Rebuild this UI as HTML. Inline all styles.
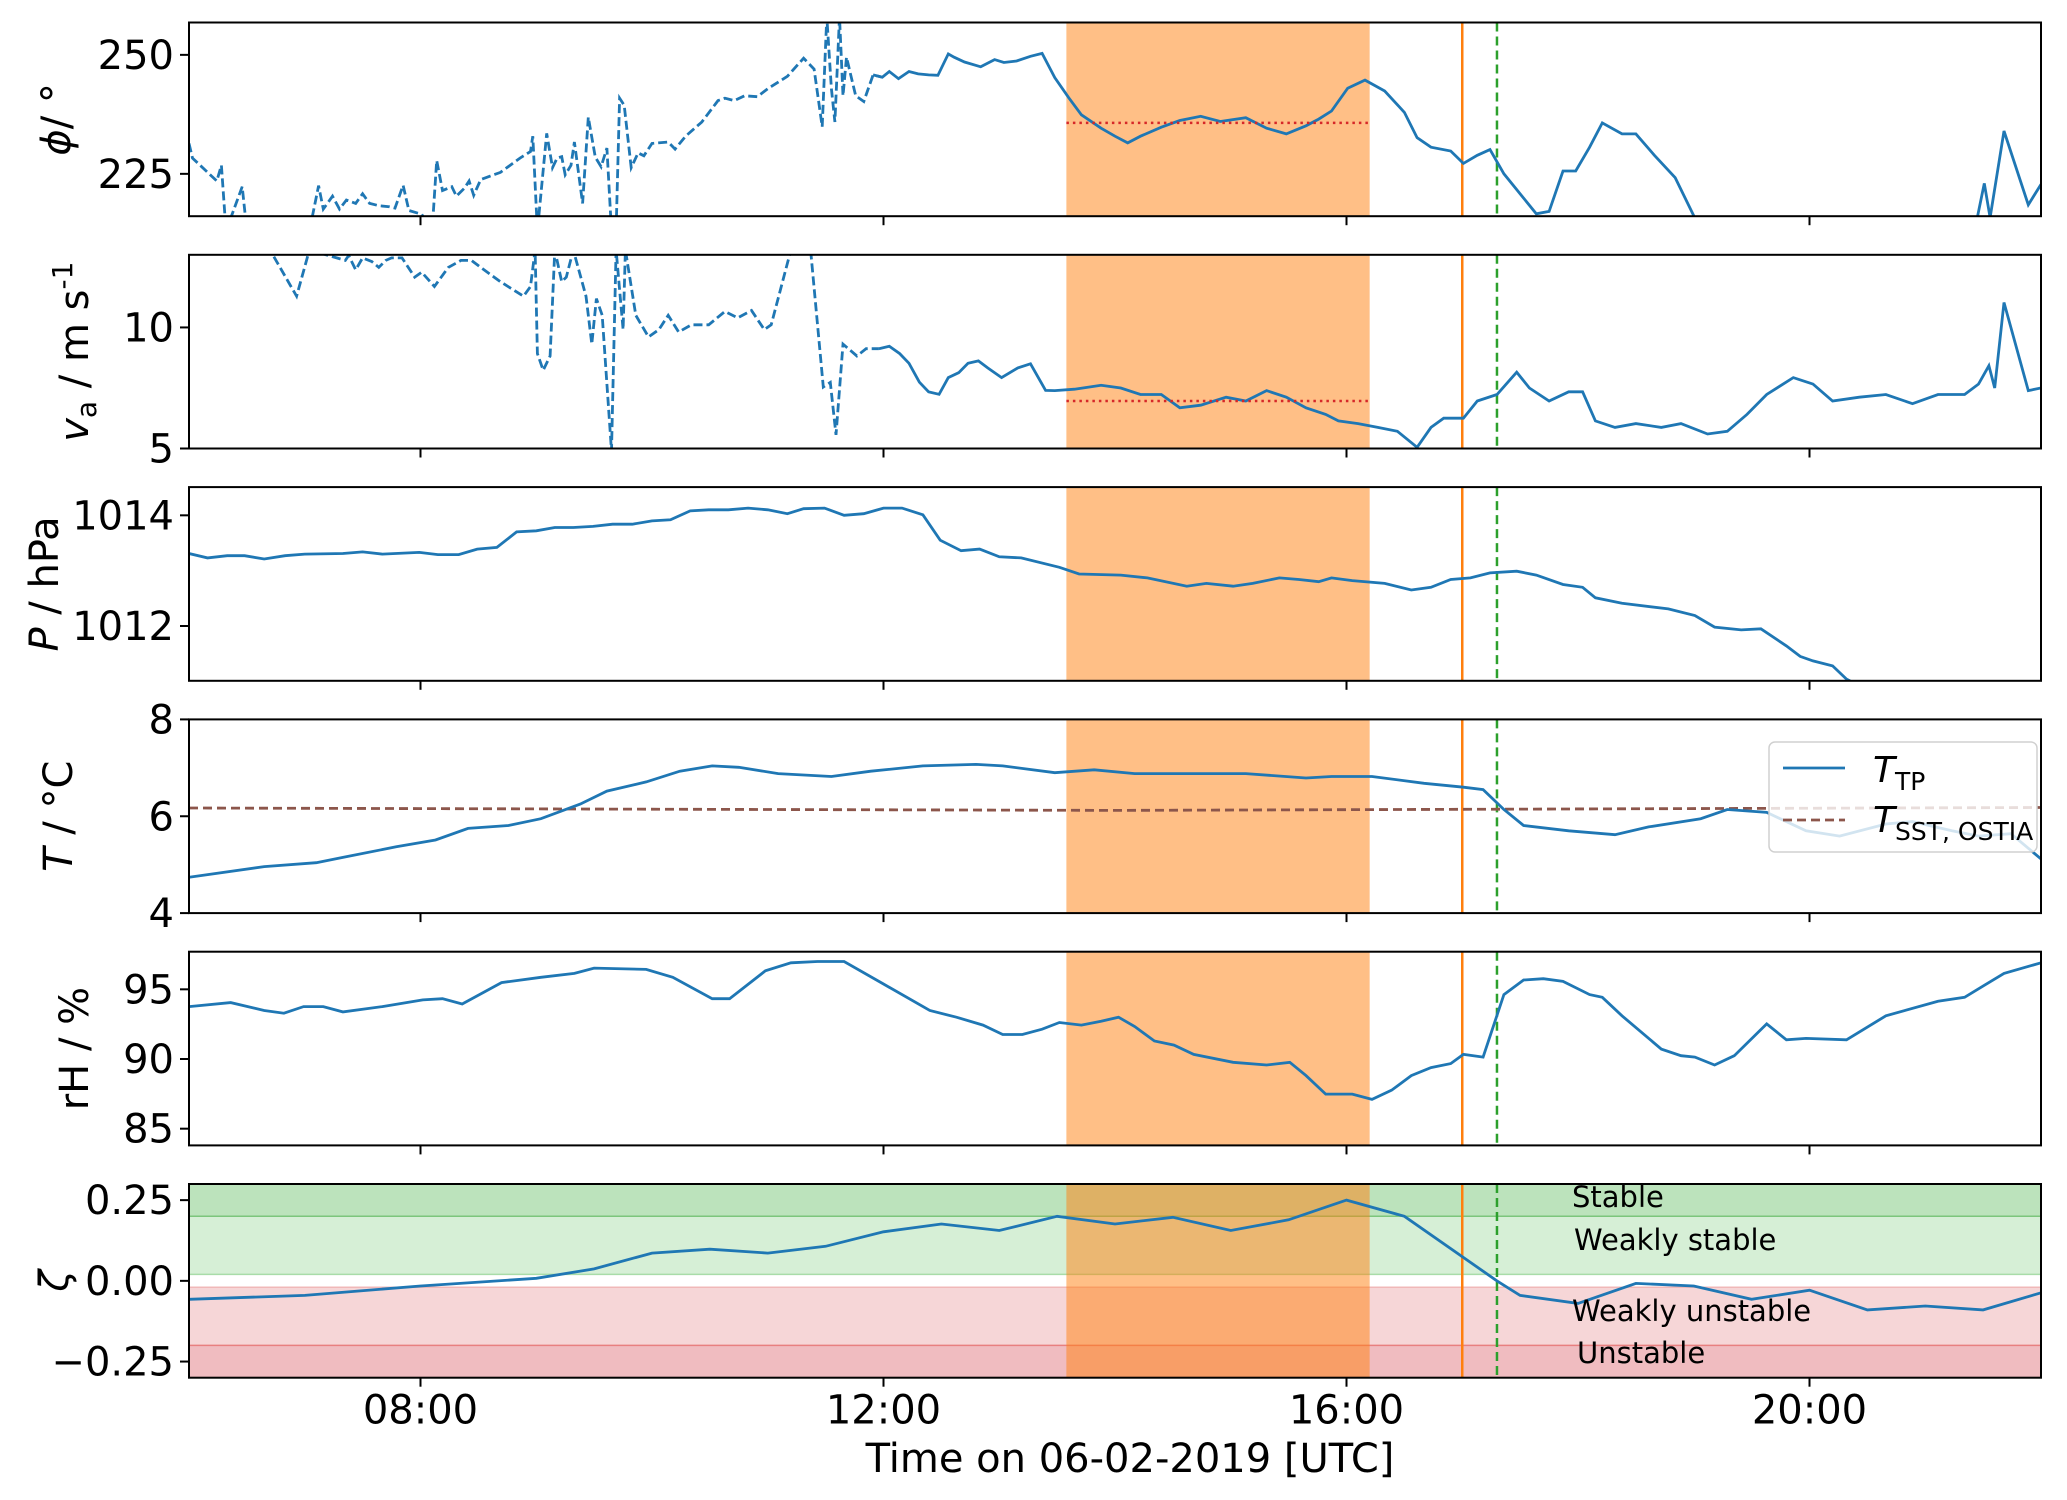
<!DOCTYPE html>
<html><head><meta charset="utf-8"><title>Time series 06-02-2019</title>
<style>
html,body{margin:0;padding:0;background:#fff;}
svg{display:block;font-family:"DejaVu Sans","Liberation Sans",sans-serif;}
</style></head>
<body>
<svg id="chart" width="2067" height="1500" viewBox="0 0 2067 1500" xmlns="http://www.w3.org/2000/svg">
<defs id="defs"></defs>
<g id="root"></g>
</svg>
<script>
// ---- data ----
const xTicks = [8, 12, 16, 20];
const xTickLabels = ["08:00", "12:00", "16:00", "20:00"];
const flightStart = 13.58, flightEnd = 16.2;
const orangeLineT = 17.0, greenLineT = 17.3;
const splitT = 11.9;

const phiT = [6.00,6.03,6.24,6.28,6.32,6.46,6.50,7.04,7.12,7.16,7.24,7.30,7.36,7.44,7.50,7.56,7.64,7.73,7.78,7.85,7.90,8.01,8.10,8.14,8.19,8.27,8.31,8.38,8.42,8.46,8.52,8.69,8.86,8.95,8.97,9.01,9.09,9.14,9.18,9.22,9.25,9.30,9.33,9.40,9.45,9.51,9.56,9.61,9.65,9.69,9.72,9.76,9.82,9.88,9.93,10.00,10.14,10.20,10.29,10.43,10.57,10.63,10.71,10.80,10.91,11.00,11.17,11.31,11.40,11.47,11.51,11.55,11.58,11.62,11.65,11.68,11.76,11.83,11.91,11.99,12.05,12.13,12.22,12.30,12.39,12.47,12.56,12.61,12.70,12.84,12.96,13.04,13.15,13.27,13.37,13.48,13.6,13.71,13.88,14.0,14.11,14.22,14.4,14.56,14.74,14.91,15.13,15.31,15.48,15.65,15.76,15.87,16.01,16.16,16.33,16.5,16.61,16.73,16.9,17.01,17.13,17.24,17.36,17.53,17.64,17.75,17.87,17.98,18.1,18.21,18.38,18.5,18.66,18.84,19.01,19.1,21.45,21.51,21.56,21.68,21.89,22.0];
const phiV = [231.4,228.3,223.5,226.8,213,222.3,213,213,222.5,217.6,220.3,217.6,219.5,218.8,220.8,218.8,218.3,218.1,217.8,222.6,217.3,216.5,213,227.8,221.5,222.3,220.3,222.0,223.5,220.5,223.8,225.3,228.3,229.7,232.9,213,233.5,226.3,228.3,228.6,224.8,226.8,231.7,218.8,236.9,228.5,226.5,230.4,213,213,240.9,239.4,226.3,229.4,228.8,231.4,231.7,230.2,232.9,235.9,240.4,240.9,240.4,241.4,241.2,242.9,245.5,249.3,247.0,234.9,258,242.9,235.9,258,241.4,249.5,241.4,240.2,245.8,245.3,246.5,245.0,246.5,246.0,245.8,245.7,250.2,249.5,248.5,247.5,249.0,248.4,248.7,249.7,250.3,245.2,241,237.4,234.6,232.9,231.5,232.9,234.8,236.2,237.1,236.0,236.8,234.6,233.4,235.1,236.5,238.2,243.0,244.7,242.4,237.9,232.6,230.6,229.8,227.2,228.9,230.1,225.0,219.9,216.6,217.1,225.6,225.6,230.6,235.7,233.4,233.4,228.9,224.2,215.7,215.8,215.8,223,215.8,234,218.5,222.8];
const phiMean = 235.7;

const vT = [6.00,6.70,6.93,7.04,7.35,7.38,7.44,7.50,7.58,7.64,7.70,7.75,7.84,7.95,8.01,8.12,8.24,8.35,8.44,8.52,8.69,8.89,8.95,8.99,9.01,9.06,9.12,9.16,9.22,9.26,9.32,9.43,9.48,9.52,9.57,9.65,9.69,9.75,9.77,9.86,9.97,10.06,10.14,10.23,10.34,10.49,10.63,10.74,10.86,10.97,11.03,11.20,11.37,11.48,11.54,11.59,11.65,11.77,11.85,11.96,12.05,12.14,12.22,12.31,12.39,12.48,12.56,12.65,12.73,12.82,12.90,13.02,13.16,13.27,13.4,13.48,13.65,13.88,14.05,14.22,14.4,14.56,14.74,14.96,15.13,15.31,15.48,15.65,15.82,15.93,16.1,16.27,16.44,16.61,16.73,16.84,17.01,17.13,17.3,17.47,17.58,17.75,17.92,18.04,18.15,18.32,18.5,18.72,18.89,19.12,19.29,19.46,19.63,19.86,20.03,20.2,20.43,20.66,20.89,21.11,21.34,21.46,21.55,21.6,21.68,21.89,22.0];
const vV = [14,13.2,11.29,13.2,12.77,12.97,12.38,12.87,12.72,12.48,12.77,12.87,12.87,12.08,12.28,11.69,12.48,12.77,12.77,12.48,11.89,11.29,11.69,13.2,8.92,8.23,8.82,13.2,11.89,12.08,13.2,11.29,9.31,11.19,10.5,4.9,13.2,9.91,13.2,10.5,9.61,9.91,10.5,9.81,10.11,10.11,10.66,10.4,10.7,9.91,10.11,13.2,13.2,7.54,7.73,5.56,9.31,8.82,9.12,9.12,9.22,8.92,8.52,7.74,7.34,7.24,7.93,8.13,8.52,8.62,8.33,7.93,8.33,8.5,7.4,7.39,7.45,7.61,7.5,7.23,7.23,6.68,6.79,7.12,6.96,7.39,7.12,6.68,6.41,6.14,6.03,5.87,5.71,5.05,5.87,6.25,6.25,6.96,7.23,8.15,7.5,6.96,7.34,7.34,6.14,5.87,6.03,5.87,6.03,5.6,5.71,6.41,7.23,7.93,7.66,6.96,7.12,7.23,6.85,7.23,7.23,7.66,8.42,7.5,11.03,7.39,7.5];
const vMean = 6.96;

const pT = [6.00,6.16,6.33,6.48,6.65,6.83,7.00,7.33,7.50,7.67,7.99,8.15,8.33,8.49,8.66,8.83,9.0,9.16,9.32,9.49,9.66,9.83,10.0,10.16,10.33,10.49,10.66,10.83,11.0,11.17,11.31,11.49,11.66,11.83,12.0,12.16,12.34,12.49,12.67,12.83,13.0,13.19,13.52,13.69,14.05,14.28,14.62,14.79,15.02,15.19,15.42,15.59,15.76,15.87,16.05,16.33,16.56,16.73,16.90,17.07,17.24,17.47,17.64,17.87,18.04,18.15,18.38,18.78,19.01,19.18,19.41,19.58,19.80,19.92,20.03,20.20,20.32,20.45];
const pV = [1013.31,1013.23,1013.27,1013.27,1013.21,1013.27,1013.30,1013.31,1013.34,1013.30,1013.33,1013.29,1013.29,1013.39,1013.42,1013.70,1013.72,1013.78,1013.78,1013.80,1013.84,1013.84,1013.90,1013.92,1014.08,1014.10,1014.10,1014.13,1014.10,1014.03,1014.12,1014.13,1014.0,1014.03,1014.13,1014.13,1014.01,1013.55,1013.36,1013.39,1013.25,1013.23,1013.06,1012.94,1012.92,1012.87,1012.72,1012.77,1012.72,1012.77,1012.87,1012.84,1012.80,1012.87,1012.82,1012.77,1012.65,1012.70,1012.84,1012.87,1012.96,1012.99,1012.92,1012.75,1012.70,1012.51,1012.41,1012.31,1012.19,1011.98,1011.93,1011.95,1011.64,1011.45,1011.37,1011.28,1011.04,1010.9];

const tempT = [6.00,6.65,7.10,7.33,7.79,8.13,8.41,8.76,9.04,9.38,9.61,9.95,10.24,10.52,10.75,11.09,11.55,11.89,12.34,12.80,13.03,13.48,13.82,14.17,14.62,15.13,15.65,15.87,16.22,16.67,17.01,17.18,17.36,17.53,17.92,18.32,18.61,19.06,19.29,19.63,19.97,20.26,20.66,20.89,21.23,21.46,21.74,22.00];
const tempV = [4.74,4.96,5.04,5.15,5.37,5.51,5.75,5.81,5.95,6.25,6.52,6.71,6.93,7.04,7.01,6.88,6.82,6.93,7.04,7.07,7.04,6.90,6.96,6.88,6.88,6.88,6.79,6.82,6.82,6.68,6.60,6.55,6.14,5.81,5.70,5.62,5.78,5.95,6.14,6.08,5.70,5.59,5.84,5.89,5.70,5.59,5.64,5.12];
const sstT = [6.0, 14.0, 22.0];
const sstV = [6.17, 6.12, 6.18];

const rhT = [6.00,6.36,6.65,6.82,6.99,7.16,7.33,7.67,8.02,8.19,8.36,8.70,9.04,9.33,9.50,9.95,10.18,10.52,10.67,10.98,11.20,11.43,11.66,12.00,12.40,12.63,12.86,13.03,13.20,13.37,13.52,13.71,13.88,14.03,14.17,14.34,14.51,14.68,15.02,15.31,15.51,15.65,15.82,16.05,16.22,16.39,16.56,16.73,16.90,17.01,17.18,17.36,17.53,17.70,17.87,18.10,18.21,18.38,18.72,18.89,19.01,19.18,19.35,19.63,19.80,19.97,20.32,20.66,21.11,21.34,21.51,21.68,22.00];
const rhV = [93.76,94.05,93.48,93.29,93.76,93.76,93.38,93.76,94.24,94.33,93.95,95.48,95.86,96.14,96.52,96.43,95.86,94.33,94.33,96.33,96.9,97.0,97.0,95.38,93.48,93.0,92.43,91.76,91.76,92.14,92.62,92.43,92.71,93.0,92.33,91.29,91.0,90.33,89.76,89.57,89.76,88.81,87.48,87.48,87.1,87.76,88.81,89.38,89.67,90.33,90.14,94.62,95.67,95.76,95.57,94.62,94.43,93.1,90.71,90.24,90.14,89.57,90.24,92.52,91.38,91.48,91.38,93.1,94.14,94.43,95.29,96.14,96.9];

const zetaT = [6.0,7.0,8.0,9.0,9.5,10.0,10.5,11.0,11.5,12.0,12.5,13.0,13.5,14.0,14.5,15.0,15.5,16.0,16.5,17.3,17.5,18.0,18.5,19.0,19.5,20.0,20.5,21.0,21.5,22.0];
const zetaV = [-0.057,-0.045,-0.016,0.008,0.037,0.086,0.098,0.086,0.107,0.152,0.176,0.156,0.2,0.176,0.197,0.156,0.189,0.25,0.2,0.0,-0.045,-0.07,-0.008,-0.016,-0.057,-0.029,-0.09,-0.078,-0.09,-0.037];

const panelRanges = [[216.1,256.8],[5,13],[1011.01,1014.51],[4,8],[83.8,97.7],[-0.3,0.3]];
const yTickVals = [[225,250],[5,10],[1012,1014],[4,6,8],[85,90,95],[-0.25,0,0.25]];
const yTickLabels = [["225","250"],["5","10"],["1012","1014"],["4","6","8"],["85","90","95"],["\u22120.25","0.00","0.25"]];

// ---- layout ----
const NS = "http://www.w3.org/2000/svg";
const L = 189, R = 2041, T0 = 22.5, STEP = 232.3, H = 193.7;
const BLUE = "#1f77b4";
const root = document.getElementById('root');
const defs = document.getElementById('defs');
function xS(t){ return L + (t - 6) / 16 * (R - L); }
function mk(tag, attrs, parent){ const e = document.createElementNS(NS, tag); for (const k in attrs) e.setAttribute(k, attrs[k]); (parent||root).appendChild(e); return e; }

const panels = [];
for (let i = 0; i < 6; i++) {
  const top = T0 + i * STEP, bot = top + H;
  const [lo, hi] = panelRanges[i];
  const yS = v => bot - (v - lo) / (hi - lo) * H;
  const g = mk('g', {});
  
  
  const cp = mk('clipPath', {id: 'clip' + i}, defs);
  mk('rect', {x: L, y: top, width: R - L, height: H}, cp);
  const plot = mk('g', {'clip-path': 'url(#clip' + i + ')'}, g);
  panels.push({top, bot, yS, g, plot});
}

function linePath(ts, vs, yS, filter){
  let d = "";
  let started = false;
  for (let k = 0; k < ts.length; k++) {
    if (filter && !filter(ts[k])) continue;
    d += (started ? "L" : "M") + xS(ts[k]).toFixed(1) + "," + yS(vs[k]).toFixed(1);
    started = true;
  }
  return d;
}

// zeta bands (panel 6)
{
  const p = panels[5];
  const bands = [[0.2,0.3,"#bce3bc","stable-band"],[0.02,0.2,"#d6efd6","weakly-stable-band"],[-0.2,-0.02,"#f6d6d7","weakly-unstable-band"],[-0.3,-0.2,"#f0bcc0","unstable-band"]];
  bands.forEach(b => {
    const r = mk('rect', {x: L, y: p.yS(b[1]), width: R - L, height: p.yS(b[0]) - p.yS(b[1]), fill: b[2]}, p.plot);
    
    
  });
  const l1 = mk('line', {x1: L, x2: R, y1: p.yS(0.2), y2: p.yS(0.2), stroke: "#7cc67c", 'stroke-width': 1.5}, p.plot);
  
  
  const l2 = mk('line', {x1: L, x2: R, y1: p.yS(-0.2), y2: p.yS(-0.2), stroke: "#e88080", 'stroke-width': 1.5}, p.plot);
  
  
  const l3 = mk('line', {x1: L, x2: R, y1: p.yS(0.02), y2: p.yS(0.02), stroke: "#a8dca8", 'stroke-width': 1.5}, p.plot);
  
  
  const l4 = mk('line', {x1: L, x2: R, y1: p.yS(-0.02), y2: p.yS(-0.02), stroke: "#f0b8b8", 'stroke-width': 1.5}, p.plot);
  
  
}

// shading + vertical lines
panels.forEach((p, i) => {
  const s = mk('rect', {x: xS(flightStart), y: p.top, width: xS(flightEnd) - xS(flightStart), height: H, fill: "#ff7f0e", 'fill-opacity': 0.5}, p.plot);
  
  
  const ov = mk('line', {x1: xS(orangeLineT), x2: xS(orangeLineT), y1: p.top, y2: p.bot, stroke: "#ff7f0e", 'stroke-width': 2.5}, p.plot);
  
  
  const gv = mk('line', {x1: xS(greenLineT), x2: xS(greenLineT), y1: p.top, y2: p.bot, stroke: "#2ca02c", 'stroke-width': 2.5, 'stroke-dasharray': "9,5"}, p.plot);
  
  
});

// series
function drawSeries(pi, ts, vs, name, split){
  const p = panels[pi];
  if (split) {
    const a = mk('path', {d: linePath(ts, vs, p.yS, t => t <= splitT + 0.1), fill: "none", stroke: BLUE, 'stroke-width': 2.8, 'stroke-dasharray': "9,4"}, p.plot);
    
    
    const b = mk('path', {d: linePath(ts, vs, p.yS, t => t >= splitT - 0.01), fill: "none", stroke: BLUE, 'stroke-width': 2.8}, p.plot);
    
    
  } else {
    const a = mk('path', {d: linePath(ts, vs, p.yS), fill: "none", stroke: BLUE, 'stroke-width': 2.8}, p.plot);
    
    
  }
}
drawSeries(0, phiT, phiV, 'wind-direction-line', true);
drawSeries(1, vT, vV, 'wind-speed-line', true);
drawSeries(2, pT, pV, 'pressure-line', false);
{
  const p = panels[3];
  const sst = mk('path', {d: linePath(sstT, sstV, p.yS), fill: "none", stroke: "#8c564b", 'stroke-width': 2.8, 'stroke-dasharray': "9,5"}, p.plot);
  
  
}
drawSeries(3, tempT, tempV, 'temperature-line', false);
drawSeries(4, rhT, rhV, 'humidity-line', false);
drawSeries(5, zetaT, zetaV, 'stability-line', false);

// mean lines
[[0, phiMean, 'mean-direction-line'], [1, vMean, 'mean-speed-line']].forEach(m => {
  const p = panels[m[0]];
  const ln = mk('line', {x1: xS(flightStart), x2: xS(flightEnd), y1: p.yS(m[1]), y2: p.yS(m[1]), stroke: "#d62728", 'stroke-width': 2.5, 'stroke-dasharray': "2.5,4"}, p.plot);
  
  
});

// zone labels
{
  const p = panels[5];
  const zl = [["Stable", 1572, 1207], ["Weakly stable", 1574, 1250], ["Weakly unstable", 1572, 1321], ["Unstable", 1577, 1363]];
  zl.forEach(z => {
    const t = mk('text', {x: z[1], y: z[2], 'font-size': 29, fill: "#000"}, p.g);
    t.textContent = z[0];
    
    
  });
}

// axes, ticks
panels.forEach((p, i) => {
  const fr = mk('rect', {x: L, y: p.top, width: R - L, height: H, fill: "none", stroke: "#000", 'stroke-width': 2}, p.g);
  
  
  xTicks.forEach((t, k) => {
    const tk = mk('line', {x1: xS(t), x2: xS(t), y1: p.bot, y2: p.bot + 9, stroke: "#000", 'stroke-width': 2}, p.g);
    
    
    if (i === 5) {
      const lb = mk('text', {x: xS(t), y: p.bot + 46, 'font-size': 40, 'text-anchor': "middle"}, p.g);
      lb.textContent = xTickLabels[k];
      
      
    }
  });
  yTickVals[i].forEach((v, k) => {
    const y = p.yS(v);
    const tk = mk('line', {x1: L - 9, x2: L, y1: y, y2: y, stroke: "#000", 'stroke-width': 2}, p.g);
    
    
    const lb = mk('text', {x: L - 15, y: y + 14, 'font-size': 40, 'text-anchor': "end"}, p.g);
    lb.textContent = yTickLabels[i][k];
    
    
  });
});
</script>
<script>
// y-axis titles, x-axis title, legend
(function(){
  const NS = "http://www.w3.org/2000/svg";
  const root = document.getElementById('root');
  const T0 = 22.5, STEP = 232.3, H = 193.7;
  const titles = [
    '<tspan font-style="italic">ϕ</tspan>/ °',
    '<tspan font-style="italic">v</tspan><tspan font-size="28" dy="8">a</tspan><tspan dy="-8"> / m s</tspan><tspan font-size="28" dy="-16">-1</tspan>',
    '<tspan font-style="italic">P</tspan> / hPa',
    '<tspan font-style="italic">T</tspan> / °C',
    'rH / %',
    '<tspan font-style="italic">ζ</tspan>'
  ];
  const names = ['phi-axis-title','va-axis-title','pressure-axis-title','temperature-axis-title','rh-axis-title','zeta-axis-title'];
  const xs = [70, 88, 58, 72, 88, 68];
  titles.forEach((tt, i) => {
    const cy = T0 + i * STEP + H / 2;
    const t = document.createElementNS(NS, 'text');
    t.setAttribute('x', xs[i]); t.setAttribute('y', cy);
    t.setAttribute('font-size', 40);
    t.setAttribute('text-anchor', 'middle');
    t.setAttribute('transform', 'rotate(-90 ' + xs[i] + ' ' + cy + ')');
    t.innerHTML = tt;
    
    
    root.appendChild(t);
  });
  const xl = document.createElementNS(NS, 'text');
  xl.setAttribute('x', 1130); xl.setAttribute('y', 1472);
  xl.setAttribute('font-size', 40); xl.setAttribute('text-anchor', 'middle');
  xl.textContent = 'Time on 06-02-2019 [UTC]';
  
  
  root.appendChild(xl);

  const lg = document.createElementNS(NS, 'g');
  
  
  lg.innerHTML =
    '<rect x="1769" y="742" width="268" height="110" rx="6" fill="#fff" fill-opacity="0.8" stroke="#d0d0d0" stroke-width="1.5"/>' +
    '<line x1="1783" x2="1845" y1="768" y2="768" stroke="#1f77b4" stroke-width="2.8"/>' +
    '<line x1="1783" x2="1845" y1="820" y2="820" stroke="#8c564b" stroke-width="2.8" stroke-dasharray="9,5"/>';
  const e1 = document.createElementNS(NS, 'text');
  e1.setAttribute('x', 1873); e1.setAttribute('y', 782); e1.setAttribute('font-size', 36);
  e1.innerHTML = '<tspan font-style="italic">T</tspan><tspan font-size="25" dy="8">TP</tspan>';
  
  
  lg.appendChild(e1);
  const e2 = document.createElementNS(NS, 'text');
  e2.setAttribute('x', 1873); e2.setAttribute('y', 832); e2.setAttribute('font-size', 36);
  e2.innerHTML = '<tspan font-style="italic">T</tspan><tspan font-size="25" dy="8">SST, OSTIA</tspan>';
  
  
  lg.appendChild(e2);
  root.appendChild(lg);
})();
</script>
</body></html>
